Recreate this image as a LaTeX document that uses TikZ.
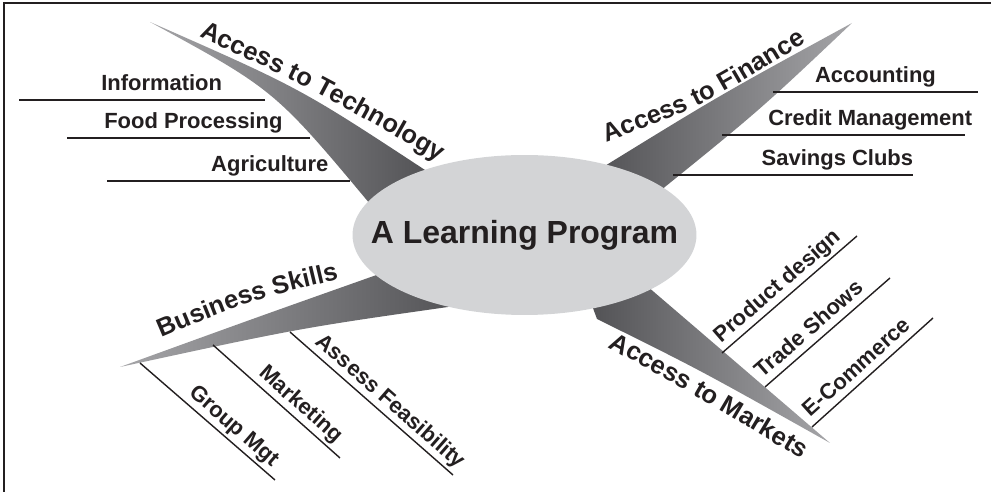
\documentclass[tikz,border=0pt]{standalone}
\usepackage{fontspec}
\setmainfont{Liberation Sans}
\usetikzlibrary{shapes.geometric,decorations.text}
\definecolor{hubgray}{RGB}{211,212,214}
\definecolor{wedgedark}{RGB}{82,82,85}
\definecolor{wedgelight}{RGB}{165,165,168}
\definecolor{inkblack}{RGB}{35,31,32}
\newcommand{\branchfont}{\fontsize{14.5}{17}\selectfont\bfseries}

\begin{document}
\begin{tikzpicture}[x=0.02cm,y=-0.02cm,
	hub_node/.style={ellipse,fill=hubgray,minimum width=6.88cm,minimum height=3.2cm,inner sep=0pt},
	hub_text/.style={inner sep=0pt,text=inkblack,font=\fontsize{18.2}{22}\selectfont\bfseries},
	twig/.style={draw=inkblack,line width=0.8pt},
	sub_label/.style={inner sep=0pt,text depth=0pt,text=inkblack,font=\fontsize{12.5}{15}\selectfont\bfseries},
	branch_text/.style={decoration={text along path,text align=center,text color=inkblack,text={|\branchfont|#1}},decorate}]

		\useasboundingbox (0,0) rectangle (991,492);
		\draw[inkblack,line width=1.2pt] (4,492) -- (4,3) -- (991,3);

		\shade[left color=wedgelight,right color=wedgedark] (150,22) .. controls (300,88) .. (425,170) -- (430,200) -- (375,210) .. controls (275,90) .. (150,22) -- cycle;
		\shade[left color=wedgedark,right color=wedgelight] (852,23) .. controls (720,95) .. (595,172) -- (655,195) .. controls (760,110) .. (852,23) -- cycle;
		\shade[left color=wedgelight,right color=wedgedark] (120,367) .. controls (255,318) .. (385,272) -- (462,305) .. controls (300,328) .. (120,367) -- cycle;
		\shade[left color=wedgedark,right color=wedgelight] (640,280) -- (830,443) .. controls (700,370) .. (597,319) -- (590,300) -- cycle;

		\node[hub_node] (hub) at (524.5,235) {};
		\node[hub_text] (hub_label) at (hub.center) {A Learning Program};

		\path[branch_text=Access to Technology] (175,26) .. controls (300,82) .. (462,174);
		\path[branch_text=Access to Finance] (588,149) .. controls (700,108) .. (823,32);
		\path[branch_text=Business Skills] (140,347) .. controls (250,300) .. (362,274);
		\path[branch_text=Access to Markets] (588,336) .. controls (700,398) .. (821,471);

		\coordinate (info_a) at (265,100);
		\coordinate (info_b) at (19,100);
		\coordinate (food_a) at (310,138);
		\coordinate (food_b) at (67,138);
		\coordinate (agri_a) at (350,181);
		\coordinate (agri_b) at (107,181);

		\coordinate (acct_a) at (773,92);
		\coordinate (acct_b) at (978,92);
		\coordinate (cred_a) at (722,135);
		\coordinate (cred_b) at (965,135);
		\coordinate (save_a) at (673,175);
		\coordinate (save_b) at (913,175);

		\coordinate (group_a) at (140,363);
		\coordinate (group_b) at (275,480);
		\coordinate (mkt_a) at (213,345);
		\coordinate (mkt_b) at (340,458);
		\coordinate (assess_a) at (290,332);
		\coordinate (assess_b) at (453,475);

		\coordinate (prod_a) at (722,353);
		\coordinate (prod_b) at (857,236);
		\coordinate (trade_a) at (765,387);
		\coordinate (trade_b) at (890,278);
		\coordinate (ecom_a) at (812,427);
		\coordinate (ecom_b) at (933,318);

		\draw[twig] (info_a) -- (info_b) node[sub_label,pos=0.42,above=5pt] (info) {Information};
		\draw[twig] (food_a) -- (food_b) node[sub_label,pos=0.48,above=5pt] (food) {Food Processing};
		\draw[twig] (agri_a) -- (agri_b) node[sub_label,pos=0.33,above=5pt] (agri) {Agriculture};

		\draw[twig] (acct_a) -- (acct_b) node[sub_label,pos=0.50,above=5pt] (acct) {Accounting};
		\draw[twig] (cred_a) -- (cred_b) node[sub_label,pos=0.61,above=5pt] (cred) {Credit Management};
		\draw[twig] (save_a) -- (save_b) node[sub_label,pos=0.685,above=5pt] (save) {Savings Clubs};

		\draw[twig] (group_a) -- (group_b) node[sub_label,pos=0.63,sloped,above=4pt] (group) {Group Mgt};
		\draw[twig] (mkt_a) -- (mkt_b) node[sub_label,pos=0.62,sloped,above=4pt] (mkt) {Marketing};
		\draw[twig] (assess_a) -- (assess_b) node[sub_label,pos=0.56,sloped,above=4pt] (assess) {Assess Feasibility};

		\draw[twig] (prod_a) -- (prod_b) node[sub_label,pos=0.48,sloped,above=4pt] (prod) {Product design};
		\draw[twig] (trade_a) -- (trade_b) node[sub_label,pos=0.43,sloped,above=4pt] (trade) {Trade Shows};
		\draw[twig] (ecom_a) -- (ecom_b) node[sub_label,pos=0.45,sloped,above=4pt] (ecom) {E-Commerce};
		\end{tikzpicture}
\end{document}
